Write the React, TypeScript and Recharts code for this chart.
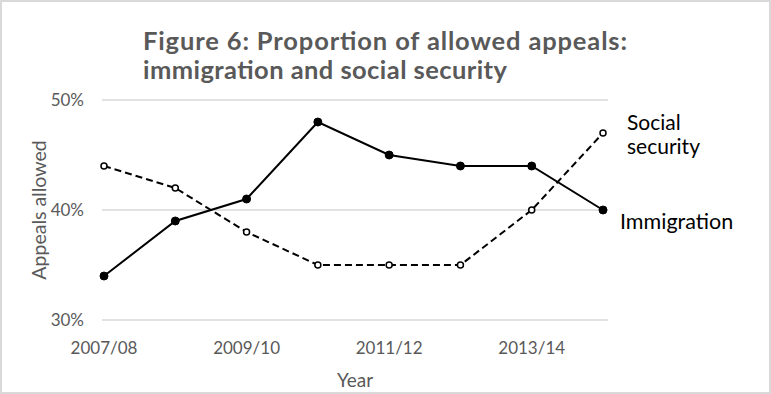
import React from 'react';
import { LineChart, Line, XAxis, YAxis, CartesianGrid, LabelList } from 'recharts';

const years = ['2007/08', '2008/09', '2009/10', '2010/11', '2011/12', '2012/13', '2013/14', '2014/15'];
const immigration = [34, 39, 41, 48, 45, 44, 44, 40];
const socialSecurity = [44, 42, 38, 35, 35, 35, 40, 47];
const yTicks = [30, 40, 50];
const xTicks = ['2007/08', '2009/10', '2011/12', '2013/14'];
const titleLines = ['Figure 6: Proportion of allowed appeals:', 'immigration and social security'];

const data = years.map((y, i) => ({ year: y, immigration: immigration[i], social: socialSecurity[i] }));

const FONT = 'Lato, "Open Sans", sans-serif';
const GREY = '#595959';
const last = years.length - 1;

const ImmLabel = (props: any) => {
  const { x, y, index } = props;
  if (index !== last) return null;
  return (
    <text x={x + 17} y={y + 19} fontFamily={FONT} fontSize={21.5} fill="#000">
      Immigration
    </text>
  );
};

const SocLabel = (props: any) => {
  const { x, y, index } = props;
  if (index !== last) return null;
  return (
    <text x={x + 24} y={y - 3} fontFamily={FONT} fontSize={21} fill="#000">
      <tspan x={x + 24}>Social</tspan>
      <tspan x={x + 24} dy={24}>security</tspan>
    </text>
  );
};

const YTitle = (props: any) => {
  const vb = props.viewBox;
  const cx = vb.x - 4;
  const cy = vb.y + vb.height / 2;
  return (
    <text x={cx} y={cy} transform={`rotate(-90 ${cx} ${cy})`} textAnchor="middle" dominantBaseline="central" fontFamily={FONT} fontSize={19.5} fill={GREY}>
      Appeals allowed
    </text>
  );
};

const XTitle = (props: any) => {
  const vb = props.viewBox;
  return (
    <text x={vb.x + vb.width / 2} y={vb.y + 67} textAnchor="middle" fontFamily={FONT} fontSize={19} fill={GREY}>
      Year
    </text>
  );
};

export default function App() {
  return (
    <div style={{ position: 'absolute', left: 0, top: 0, width: 771, height: 394, background: '#fff', boxSizing: 'border-box', border: '2px solid #d9d9d9' }}>
      <div style={{ position: 'absolute', left: -2, top: -2 }}>
        <LineChart width={771} height={394} data={data} margin={{ top: 100, right: 163, bottom: 34, left: 42 }}>
          <CartesianGrid vertical={false} stroke="#d9d9d9" strokeWidth={1.5} />
          <XAxis
            dataKey="year"
            ticks={xTicks}
            interval={0}
            axisLine={false}
            tickLine={false}
            tickSize={6}
            tickMargin={16}
            height={40}
            padding={{ left: 2, right: 5 }}
            tick={{ fill: GREY, fontFamily: FONT, fontSize: 17 }}
            label={<XTitle />}
          />
          <YAxis
            domain={[30, 50]}
            ticks={yTicks}
            axisLine={false}
            tickLine={false}
            tickSize={6}
            tickMargin={12}
            width={60}
            tickFormatter={(v: number) => `${v}%`}
            tick={{ fill: GREY, fontFamily: FONT, fontSize: 17 }}
            label={<YTitle />}
          />
          <Line
            dataKey="social"
            stroke="#000"
            strokeWidth={2}
            strokeDasharray="7 4"
            isAnimationActive={false}
            dot={{ r: 3, fill: '#fff', stroke: '#000', strokeWidth: 1.5, strokeDasharray: '0' }}
          >
            <LabelList dataKey="social" content={<SocLabel />} />
          </Line>
          <Line
            dataKey="immigration"
            stroke="#000"
            strokeWidth={2}
            isAnimationActive={false}
            dot={{ r: 4, fill: '#000', stroke: '#000', strokeWidth: 1 }}
          >
            <LabelList dataKey="immigration" content={<ImmLabel />} />
          </Line>
        </LineChart>
      </div>
      <svg width={771} height={100} style={{ position: 'absolute', left: -2, top: -2 }}>
        <text x={143} y={50} fontFamily={FONT} fontWeight={700} fontSize={25.5} fill={GREY} textLength={484} lengthAdjust="spacing">
          {titleLines[0]}
        </text>
        <text x={143} y={79} fontFamily={FONT} fontWeight={700} fontSize={25.5} fill={GREY} textLength={364} lengthAdjust="spacing">
          {titleLines[1]}
        </text>
      </svg>
    </div>
  );
}
